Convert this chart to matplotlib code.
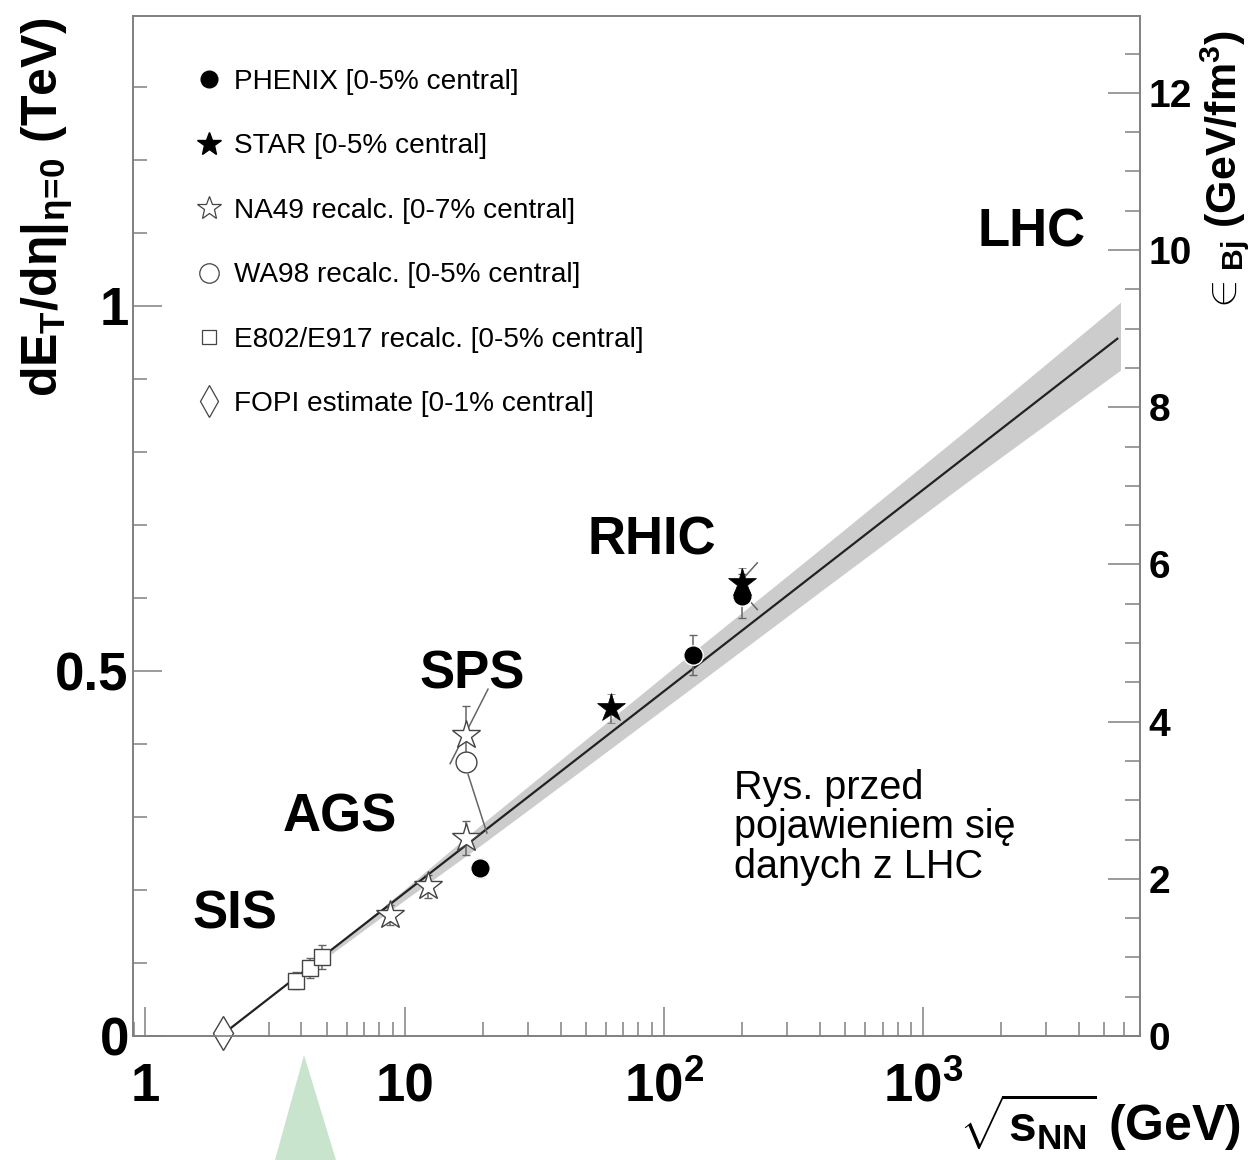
import numpy as np
import matplotlib
matplotlib.use('Agg')
from matplotlib import pyplot as plt
from matplotlib.lines import Line2D
from matplotlib.patches import Polygon
from matplotlib.ticker import FixedLocator, FixedFormatter, LogLocator, MultipleLocator, NullFormatter


# ---------------------------- Data ----------------------------
# PHENIX [0-5% central]
phenix_x = [19.6, 130.0, 200.0]
phenix_y = [0.230, 0.522, 0.603]
phenix_err = [0.012, 0.027, 0.030]

# STAR [0-5% central]
star_x = [62.4, 200.0]
star_y = [0.449, 0.621]
star_err = [0.020, 0.020]

# NA49 recalc. [0-7% central]
na49_x = [8.8, 12.3, 17.3, 17.3]
na49_y = [0.166, 0.205, 0.271, 0.412]
na49_err = [0.014, 0.016, 0.023, 0.040]

# WA98 recalc. [0-5% central]
wa98_x = [17.3]
wa98_y = [0.375]

# E802/E917 recalc. [0-5% central]
e802_x = [3.8, 4.3, 4.8]
e802_y = [0.076, 0.093, 0.108]
e802_err = [0.011, 0.014, 0.016]

# FOPI estimate [0-1% central]
fopi_x = [2.0]
fopi_y = [0.004]

# tilted error lines (WA98 and STAR 200 GeV)
tilt_segments = [
    ([15.0, 21.0], [0.373, 0.475]),
    ([17.6, 20.8], [0.358, 0.278]),
    ([201.0, 230.0], [0.625, 0.648]),
    ([216.0, 230.0], [0.595, 0.584]),
]

# log fit and its band
fit_x = [1.95, 5640.0]
fit_y = [0.0, 0.955]
band_x = [5.2, 10, 20, 50, 130, 400, 1500, 5800]
band_lo = [0.112, 0.186, 0.263, 0.368, 0.478, 0.608, 0.760, 0.912]
band_hi = [0.118, 0.201, 0.291, 0.406, 0.526, 0.666, 0.832, 1.005]

xticks = [1, 10, 100, 1000]
xtick_labels = ['1', '10', r'$10^2$', r'$10^3$']
yticks = [0, 0.5, 1]
ytick_labels = ['0', '0.5', '1']
eps_ticks = [0, 2, 4, 6, 8, 10, 12]

YMAX = 1.397
EPS_PER_TEV = 9.29   # right axis scale factor
# -------------------------------------------------------------------------------------


plt.rcParams['font.family'] = 'Liberation Sans'
plt.rcParams['mathtext.fontset'] = 'custom'
plt.rcParams['mathtext.rm'] = 'Liberation Sans:bold'
plt.rcParams['mathtext.it'] = 'Liberation Sans:bold'
plt.rcParams['mathtext.bf'] = 'Liberation Sans:bold'

spine_col = '#808080'
open_col = '#444444'
err_col = '#666666'

fig = plt.figure(figsize=(12.59, 11.60), dpi=100)
ax = fig.add_axes([0.1056, 0.1069, 0.7999, 0.8793])

# band + fit line
ax.fill_between(band_x, band_lo, band_hi, color='#cccccc', lw=0, zorder=1)
ax.plot(fit_x, fit_y, color='#222222', lw=1.6, zorder=2)

for sx, sy in tilt_segments:
    ax.plot(sx, sy, color=err_col, lw=1.1, zorder=3)

ekw = dict(ecolor=err_col, elinewidth=1.1, capsize=3, capthick=1.1, ls='none', zorder=4)
ax.errorbar(e802_x, e802_y, yerr=e802_err, marker='s', ms=11, mfc='white', mec=open_col, mew=1.0, **ekw)
ax.errorbar(na49_x, na49_y, yerr=na49_err, marker='*', ms=21, mfc='white', mec=open_col, mew=1.0, **ekw)
ax.errorbar(phenix_x, phenix_y, yerr=phenix_err, marker='o', ms=14, mfc='black', mec='white', mew=1.0, **ekw)
ax.errorbar(star_x, star_y, yerr=star_err, marker='*', ms=21, mfc='black', mec='black', mew=0.5, **ekw)
ax.plot(wa98_x, wa98_y, ls='none', marker='o', ms=15, mfc='white', mec=open_col, mew=1.0, zorder=5)
ax.plot(fopi_x, fopi_y, ls='none', marker='d', ms=17, mfc='white', mec=open_col, mew=1.0, zorder=5,
        clip_on=False)

# axes
ax.set_xscale('log')
ax.set_xlim(0.895, 6900)
ax.set_ylim(0, YMAX)

ax.xaxis.set_major_locator(FixedLocator(xticks))
ax.xaxis.set_major_formatter(FixedFormatter(xtick_labels))
ax.xaxis.set_minor_locator(LogLocator(base=10, subs=np.arange(2, 10)))
ax.xaxis.set_minor_formatter(NullFormatter())
ax.yaxis.set_major_locator(FixedLocator(yticks))
ax.yaxis.set_major_formatter(FixedFormatter(ytick_labels))
ax.yaxis.set_minor_locator(MultipleLocator(0.1))

ax.tick_params(which='both', direction='in', color=spine_col, width=1.1, top=False, right=False)
ax.tick_params(which='major', length=21)
ax.tick_params(which='minor', length=10)
ax.tick_params(axis='x', labelsize=38, pad=19)
ax.tick_params(axis='y', labelsize=38, pad=3)
for lab in ax.get_xticklabels() + ax.get_yticklabels():
    lab.set_fontweight('bold')
for sp in ax.spines.values():
    sp.set_color(spine_col)
    sp.set_linewidth(1.2)

ax2 = ax.twinx()
ax2.set_ylim(0, YMAX * EPS_PER_TEV)
ax2.yaxis.set_major_locator(FixedLocator(eps_ticks))
ax2.yaxis.set_minor_locator(MultipleLocator(0.5))
ax2.tick_params(which='both', direction='in', color=spine_col, width=1.1, labelsize=28, pad=6)
ax2.tick_params(which='major', length=23)
ax2.tick_params(which='minor', length=11)
for lab in ax2.get_yticklabels():
    lab.set_fontweight('bold')
for sp in ax2.spines.values():
    sp.set_color(spine_col)
    sp.set_linewidth(1.2)

# axis titles
ax.set_ylabel(r'$dE_T/d\eta|_{\eta\!=\!0}$ (TeV)', fontsize=36, fontweight='bold')
ax.yaxis.set_label_coords(-0.058, 0.812)
ax2.set_ylabel(r'$\in_{Bj}$ (GeV/fm$^3$)', fontsize=31, fontweight='bold')
ax2.yaxis.set_label_coords(1.058, 0.847)
fig.text(0.986, 0.006, r'$\sqrt{s_{NN}}$ (GeV)', fontsize=36, fontweight='bold', ha='right', va='bottom')

# accelerator labels
lab_kw = dict(fontsize=38, fontweight='bold', ha='center', va='center')
ax.text(2.22, 0.166, 'SIS', **lab_kw)
ax.text(5.62, 0.299, 'AGS', **lab_kw)
ax.text(18.2, 0.495, 'SPS', **lab_kw)
ax.text(90.4, 0.679, 'RHIC', **lab_kw)
ax.text(2640, 1.101, 'LHC', **lab_kw)

ax.text(0.597, 0.262, 'Rys. przed\npojawieniem się\ndanych z LHC', transform=ax.transAxes,
        fontsize=28.5, ha='left', va='top', linespacing=1.05)

# legend
handles = [
    Line2D([], [], ls='none', marker='o', ms=12, mfc='black', mec='black'),
    Line2D([], [], ls='none', marker='*', ms=18, mfc='black', mec='black'),
    Line2D([], [], ls='none', marker='*', ms=18, mfc='white', mec=open_col, mew=0.9),
    Line2D([], [], ls='none', marker='o', ms=14, mfc='white', mec=open_col, mew=0.9),
    Line2D([], [], ls='none', marker='s', ms=10, mfc='white', mec=open_col, mew=0.9),
    Line2D([], [], ls='none', marker='d', ms=16, mfc='white', mec=open_col, mew=0.9),
]
labels = ['PHENIX [0-5% central]', 'STAR [0-5% central]', 'NA49 recalc. [0-7% central]',
          'WA98 recalc. [0-5% central]', 'E802/E917 recalc. [0-5% central]',
          'FOPI estimate [0-1% central]']
ax.legend(handles, labels, loc='upper left', bbox_to_anchor=(0.0616, 0.948), frameon=False,
          fontsize=20.2, handlelength=1.0, handletextpad=0.4, labelspacing=1.37,
          borderpad=0, borderaxespad=0)

# green pointer below the axis
fig.patches.append(Polygon([[304 / 1259, 1 - 1055 / 1160], [275 / 1259, 0], [336 / 1259, 0]],
                           closed=True, transform=fig.transFigure, facecolor='#c9e4cc',
                           edgecolor='none', zorder=0))

fig.savefig('out.png', dpi=100)
